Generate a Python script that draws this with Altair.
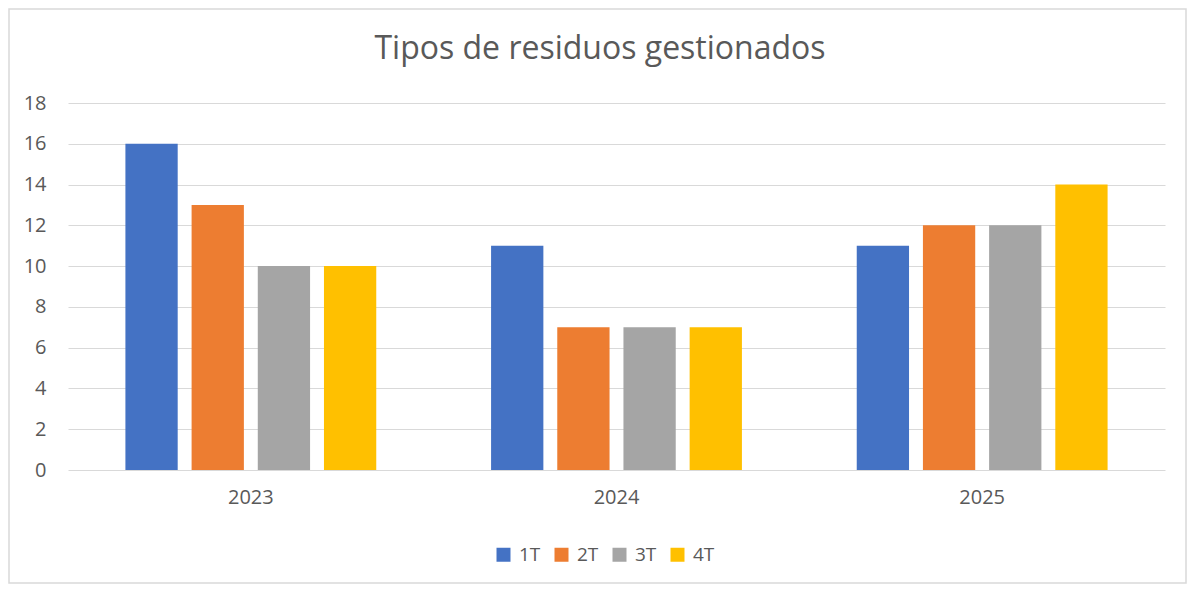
import altair as alt
import pandas as pd

years = ["2023", "2024", "2025"]
quarters = ["1T", "2T", "3T", "4T"]
values = {
    "1T": [16, 11, 11],
    "2T": [13, 7, 12],
    "3T": [10, 7, 12],
    "4T": [10, 7, 14],
}
colors = ["#4472C4", "#ED7D31", "#A5A5A5", "#FFC000"]
title_text = "Tipos de residuos gestionados"

rows = []
for q in quarters:
    for y, v in zip(years, values[q]):
        rows.append({"year": y, "quarter": q, "value": v})
df = pd.DataFrame(rows)

FONT = "Open Sans"
TXT = "#595959"

bars = alt.Chart(df).mark_bar().encode(
    x=alt.X("year:N", sort=years, title=None,
            scale=alt.Scale(paddingInner=0.314, paddingOuter=0.157),
            axis=alt.Axis(labelAngle=0, labelFontSize=20, labelColor=TXT, labelFont=FONT,
                          labelPadding=17, ticks=False, domain=False)),
    xOffset=alt.XOffset("quarter:N", sort=quarters,
                        scale=alt.Scale(paddingInner=0.21, paddingOuter=0)),
    y=alt.Y("value:Q", title=None,
            scale=alt.Scale(domain=[0, 18], nice=False),
            axis=alt.Axis(values=list(range(0, 19, 2)), labelFontSize=20, labelColor=TXT,
                          labelFont=FONT, labelPadding=22, ticks=False, domain=False,
                          gridColor="#D9D9D9", gridWidth=1)),
    color=alt.Color("quarter:N", sort=quarters,
                    scale=alt.Scale(domain=quarters, range=colors),
                    legend=alt.Legend(title=None, orient="none", direction="horizontal",
                                      legendX=426, legendY=442,
                                      symbolType="square", symbolSize=196,
                                      symbolStrokeWidth=0, labelFontSize=19,
                                      labelColor=TXT, labelFont=FONT,
                                      labelOffset=6, columnPadding=11)),
)

title = alt.Chart(pd.DataFrame({"t": [title_text]})).mark_text(
    font=FONT, fontSize=32, color=TXT, align="center", baseline="middle"
).encode(text="t:N", x=alt.value(532), y=alt.value(-54))

border = alt.Chart(pd.DataFrame({"a": [0]})).mark_rect(
    fill=None, stroke="#D9D9D9", strokeWidth=1.5
).encode(
    x=alt.value(-59), x2=alt.value(1118), y=alt.value(-94), y2=alt.value(480)
)

chart = alt.layer(border, title, bars).properties(
    width=1097, height=367,
    autosize=alt.AutoSizeParams(type="none"),
    padding={"left": 60, "top": 95, "right": 22, "bottom": 115},
).configure_view(stroke=None).configure_axis(labelFont=FONT)

chart.save("out.html", embed_options={"renderer": "svg", "actions": False})
